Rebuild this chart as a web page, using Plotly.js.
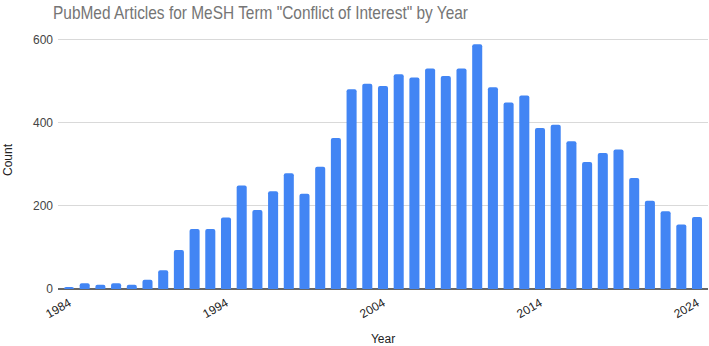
<!DOCTYPE html>
<html>
<head>
<meta charset="utf-8">
<script src="https://cdn.plot.ly/plotly-3.0.1.min.js"></script>
<style>html,body{margin:0;padding:0;background:#fff;}#chart{width:709px;height:346px;}</style>
</head>
<body>
<div id="chart"></div>
<script>
const years = [];
for (let y = 1984; y <= 2024; y++) years.push(String(y));
const counts = [5, 14, 10, 14, 10, 22, 45, 94, 144, 144, 172, 249, 190, 235,
  278, 229, 294, 363, 480, 493, 488, 516, 508, 530, 512, 530, 588, 485, 448,
  465, 387, 395, 355, 305, 327, 335, 267, 212, 187, 155, 173];
const tickYears = ["1984", "1994", "2004", "2014", "2024"];

const trace = {
  type: 'bar',
  x: years,
  y: counts,
  marker: {color: '#4285F4', cornerradius: 2},
  hoverinfo: 'x+y'
};

const layout = {
  width: 709, height: 346,
  margin: {l: 58, r: 1, t: 31, b: 57},
  paper_bgcolor: '#ffffff', plot_bgcolor: '#ffffff',
  font: {family: 'Liberation Sans, Arial, sans-serif', size: 12, color: '#222'},
  title: {text: 'PubMed Articles for MeSH Term "Conflict of Interest" by Year',
    font: {family: 'Liberation Sans, Arial, sans-serif', size: 19, color: '#757575'},
    x: 53/709, xanchor: 'left', xref: 'container', y: 0.965, yanchor: 'middle'},
  bargap: 0.36,
  xaxis: {
    type: 'category',
    range: [-0.7, 40.7],
    tickmode: 'array', tickvals: tickYears, ticktext: tickYears,
    tickangle: -30, showgrid: false, ticks: '', showline: false,
    ticklabelstandoff: 4,
    tickfont: {size: 12, color: '#222'},
    title: {text: 'Year', font: {size: 12, color: '#222'}, standoff: 22}
  },
  yaxis: {
    range: [0, 620],
    tickvals: [0, 200, 400, 600],
    showgrid: true, gridcolor: '#d9d9d9', gridwidth: 1,
    zeroline: true, zerolinecolor: '#666666', zerolinewidth: 2,
    ticks: '', ticklabelstandoff: 4,
    tickfont: {size: 12, color: '#444'},
    title: {text: 'Count', font: {size: 12, color: '#222'}, standoff: 17}
  },
  showlegend: false
};

Plotly.newPlot('chart', [trace], layout, {displayModeBar: false, staticPlot: true}).then(function (gd) {
  // The reference title uses a condensed face; compress the title text to its width.
  const t = gd.querySelector('.gtitle');
  if (t) {
    t.setAttribute('textLength', '415');
    t.setAttribute('lengthAdjust', 'spacingAndGlyphs');
  }
});
</script>
</body>
</html>
